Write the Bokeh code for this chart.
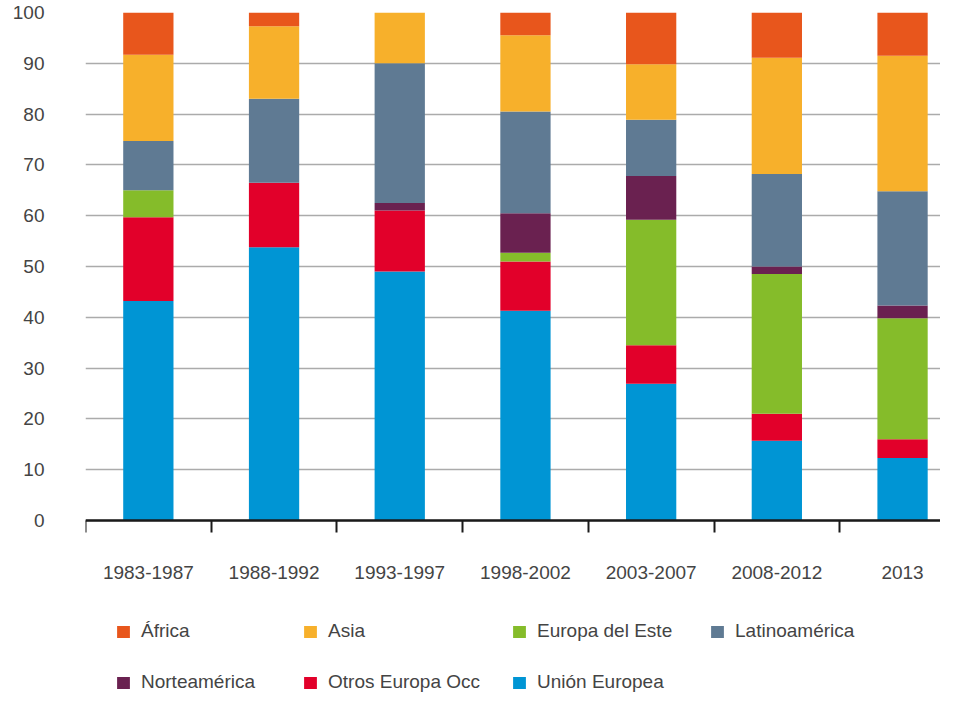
from bokeh.plotting import figure
from bokeh.models import Range1d, LinearAxis, FixedTicker, Legend, LegendItem, ColumnDataSource
from bokeh.embed import file_html
from bokeh.resources import INLINE

# ---- data ----
periods = ["1983-1987", "1988-1992", "1993-1997", "1998-2002", "2003-2007", "2008-2012", "2013"]
union_europea = [43.2, 53.8, 49.0, 41.3, 26.9, 15.7, 12.3]
otros_europa_occ = [16.5, 12.7, 12.0, 9.7, 7.6, 5.3, 3.7]
europa_del_este = [5.3, 0.0, 0.0, 1.7, 24.7, 27.5, 23.8]
norteamerica = [0.0, 0.0, 1.5, 7.8, 8.6, 1.5, 2.5]
latinoamerica = [9.7, 16.5, 27.5, 20.0, 11.1, 18.2, 22.5]
asia = [17.0, 14.3, 10.0, 15.0, 10.9, 22.9, 26.7]
africa = [8.3, 2.7, 0.0, 4.5, 10.2, 8.9, 8.5]
y_ticks = [0, 10, 20, 30, 40, 50, 60, 70, 80, 90, 100]

keys = ["ue", "oeo", "ee", "na", "la", "as", "af"]
labels = ["Unión Europea", "Otros Europa Occ", "Europa del Este", "Norteamérica",
          "Latinoamérica", "Asia", "África"]
colors = ["#0095D4", "#E2002A", "#85BC2A", "#6A2150", "#5F7A93", "#F7B02B", "#E8561C"]

xs = [i + 0.5 for i in range(len(periods))]
bounds = list(range(len(periods) + 1))
source = ColumnDataSource(dict(x=xs, ue=union_europea, oeo=otros_europa_occ, ee=europa_del_este,
                               na=norteamerica, la=latinoamerica, **{"as": asia}, af=africa))

FONT = "Liberation Sans"
TXT = "#444444"

# layout (pixels)
W, H = 940, 693
LEFT, TOP = 85, 12
Y0_PX = 520          # pixel row of value 0
BAND_PX = 125.7      # width of one category band
y_start = -100.0 * (H - Y0_PX) / (Y0_PX - TOP)
x_end = (W - LEFT) / BAND_PX

p = figure(width=W, height=H, x_range=Range1d(0, x_end), y_range=Range1d(y_start, 100),
           output_backend="svg", toolbar_location=None, x_axis_location=None,
           min_border_left=LEFT, min_border_right=0, min_border_top=TOP, min_border_bottom=0)
p.outline_line_color = None
p.background_fill_color = "white"
p.border_fill_color = "white"

rs = p.vbar_stack(keys, x="x", width=0.4, source=source, fill_color=colors, line_color=None)

# grid
p.xgrid.visible = False
p.ygrid.ticker = FixedTicker(ticks=y_ticks)
p.ygrid.grid_line_color = "#ababab"
p.ygrid.grid_line_width = 1.6

# y axis
p.yaxis.ticker = FixedTicker(ticks=y_ticks)
p.yaxis.axis_line_color = None
p.yaxis.major_tick_line_color = None
p.yaxis.minor_tick_line_color = None
p.yaxis.major_tick_out = 0
p.yaxis.major_tick_in = 0
p.yaxis.major_label_standoff = 41
p.yaxis.major_label_text_font = FONT
p.yaxis.major_label_text_font_size = "19px"
p.yaxis.major_label_text_color = TXT

# x axis at value 0: boundary ticks (minor), labels centred under bars
ax = LinearAxis(ticker=FixedTicker(ticks=xs, minor_ticks=bounds),
                major_label_overrides={x: lab for x, lab in zip(xs, periods)},
                fixed_location=0)
ax.axis_line_color = "#1a1a1a"
ax.axis_line_width = 2.5
ax.major_tick_line_color = None
ax.major_tick_out = 0
ax.major_tick_in = 0
ax.minor_tick_line_color = "#1a1a1a"
ax.minor_tick_line_width = 2
ax.minor_tick_out = 12
ax.minor_tick_in = 0
ax.major_label_standoff = 33
ax.major_label_text_font = FONT
ax.major_label_text_font_size = "19px"
ax.major_label_text_color = TXT
p.add_layout(ax, "below")

# legend: separate entries positioned like the reference (frame coords, from bottom-left)
r_by_label = dict(zip(labels, rs))
legend_layout = [
    ("África", 30, 51), ("Asia", 217, 51), ("Europa del Este", 426, 51), ("Latinoamérica", 624, 51),
    ("Norteamérica", 30, 0), ("Otros Europa Occ", 217, 0), ("Unión Europea", 426, 0),
]
for lab, lx, ly in legend_layout:
    leg = Legend(items=[LegendItem(label=lab, renderers=[r_by_label[lab]])], location=(lx, ly))
    leg.glyph_width = 16
    leg.glyph_height = 15
    leg.label_standoff = 10
    leg.label_height = 22
    leg.padding = 0
    leg.margin = 0
    leg.spacing = 0
    leg.border_line_color = None
    leg.background_fill_alpha = 0
    leg.label_text_font = FONT
    leg.label_text_font_size = "19px"
    leg.label_text_color = TXT
    p.add_layout(leg)

open("out.html", "w").write(file_html(p, INLINE))
